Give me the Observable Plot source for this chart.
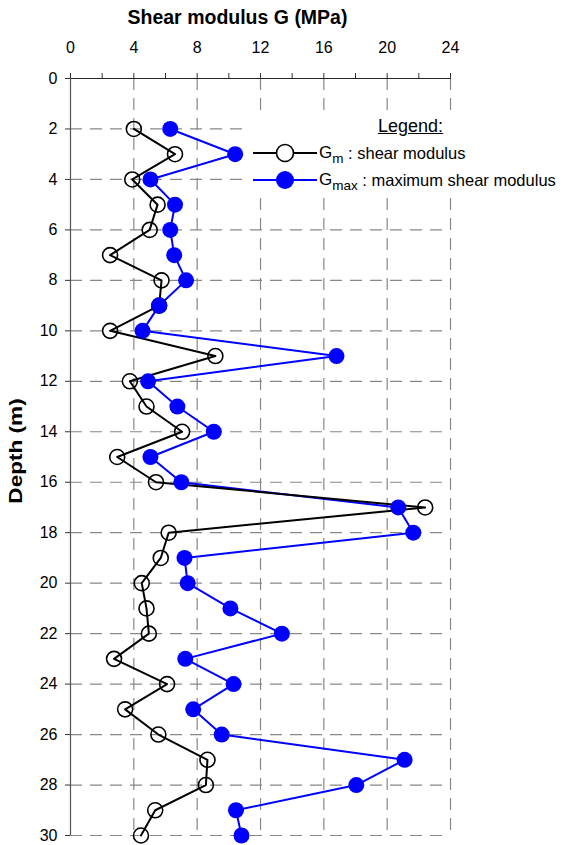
<!DOCTYPE html>
<html>
<head>
<meta charset="utf-8">
<script src="https://cdn.jsdelivr.net/npm/d3@7"></script>
<script src="https://cdn.jsdelivr.net/npm/@observablehq/plot@0.6"></script>
<style>
  body { margin: 0; background: white; font-family: Arial, "Liberation Sans", sans-serif; }
  #wrap { position: relative; width: 564px; height: 845px; }
  #title { position: absolute; left: 0; width: 475px; top: 6px; text-align: center; font-weight: bold; font-size: 19.5px; }
  #ylab { position: absolute; left: 16px; top: 451px; transform: translate(-50%, -50%) rotate(-90deg) scaleX(1.22); font-weight: bold; font-size: 18.5px; white-space: nowrap; }
  #legend { position: absolute; left: 247px; top: 112px; width: 317px; height: 83px; background: white; }
  #legend .hdr { position: absolute; left: 131px; top: 4px; font-size: 18px; text-decoration: underline; }
  #legend .row { position: absolute; left: 6px; height: 24px; display: flex; align-items: center; white-space: nowrap; font-size: 16.5px; }
  #legend .row svg { margin-right: 2px; }
  #legend .sub { font-size: 13.5px; position: relative; top: 5px; }
  #legend .G { font-size: 17px; }
</style>
</head>
<body>
<div id="wrap">
  <div id="chart"></div>
  <div id="title">Shear modulus G (MPa)</div>
  <div id="ylab">Depth (m)</div>
  <div id="legend">
    <div class="hdr">Legend:</div>
    <div class="row" style="top:29px">
      <svg width="64" height="24"><line x1="0" y1="12" x2="64" y2="12" stroke="black" stroke-width="2"/><circle cx="32" cy="12" r="8.5" fill="white" stroke="black" stroke-width="1.6"/></svg>
      <span class="G">G</span><span class="sub">m</span><span>&nbsp;: shear modulus</span>
    </div>
    <div class="row" style="top:56px">
      <svg width="64" height="24"><line x1="0" y1="12" x2="64" y2="12" stroke="blue" stroke-width="2"/><circle cx="32" cy="12" r="9" fill="blue"/></svg>
      <span class="G">G</span><span class="sub">max</span><span>&nbsp;: maximum shear modulus</span>
    </div>
  </div>
</div>
<script>
const depth = d3.range(2, 31, 1);
const gm = [4.0, 6.6, 3.9, 5.5, 5.0, 2.5, 5.75, 5.6, 2.5, 9.15, 3.75, 4.8, 7.05, 2.95, 5.4, 22.4, 6.2, 5.7, 4.5, 4.8, 4.95, 2.75, 6.1, 3.45, 5.55, 8.65, 8.55, 5.35, 4.45];
const gmax = [6.3, 10.4, 5.05, 6.6, 6.3, 6.55, 7.3, 5.6, 4.55, 16.8, 4.9, 6.75, 9.05, 5.05, 7.0, 20.7, 21.65, 7.2, 7.4, 10.1, 13.35, 7.25, 10.3, 7.75, 9.55, 21.1, 18.05, 10.45, 10.8];
const xTicks = d3.range(0, 25, 2);
const yTicks = d3.range(0, 31, 2);
const xGrid = d3.range(4, 25, 4);
const yGrid = d3.range(2, 31, 2);

const gmData = depth.map((d, i) => ({depth: d, g: gm[i]}));
const gmaxData = depth.map((d, i) => ({depth: d, g: gmax[i]}));

const chart = Plot.plot({
  width: 564,
  height: 845,
  marginLeft: 70,
  marginRight: 114,
  marginTop: 78,
  marginBottom: 10,
  style: {fontFamily: 'Arial, "Liberation Sans", sans-serif', fontSize: "16px", color: "black", background: "white"},
  x: {domain: [0, 24]},
  y: {domain: [0, 30], reverse: true},
  marks: [
    Plot.ruleX(xGrid, {stroke: "#888", strokeDasharray: "12,8", strokeWidth: 1.2}),
    Plot.ruleY(yGrid, {stroke: "#888", strokeDasharray: "12,8", strokeWidth: 1.2}),
    Plot.axisX({anchor: "top", ticks: xTicks, tickFormat: d => d % 4 === 0 ? d : "", tickSize: 6, tickPadding: 20, label: null, stroke: "#333"}),
    Plot.axisY({anchor: "left", ticks: yTicks, tickSize: 5, tickPadding: 8, label: null, stroke: "#333"}),
    Plot.ruleY([0], {stroke: "#222", strokeWidth: 1.2}),
    Plot.ruleX([0], {stroke: "#555", strokeWidth: 1.2}),
    Plot.line(gmaxData, {x: "g", y: "depth", stroke: "blue", strokeWidth: 2}),
    Plot.line(gmData, {x: "g", y: "depth", stroke: "black", strokeWidth: 2}),
    Plot.dot(gmData, {x: "g", y: "depth", r: 7.5, stroke: "black", strokeWidth: 1.6, fill: "none"}),
    Plot.dot(gmaxData, {x: "g", y: "depth", r: 8, fill: "blue", stroke: "none"})
  ]
});
document.getElementById("chart").appendChild(chart);
</script>
</body>
</html>
